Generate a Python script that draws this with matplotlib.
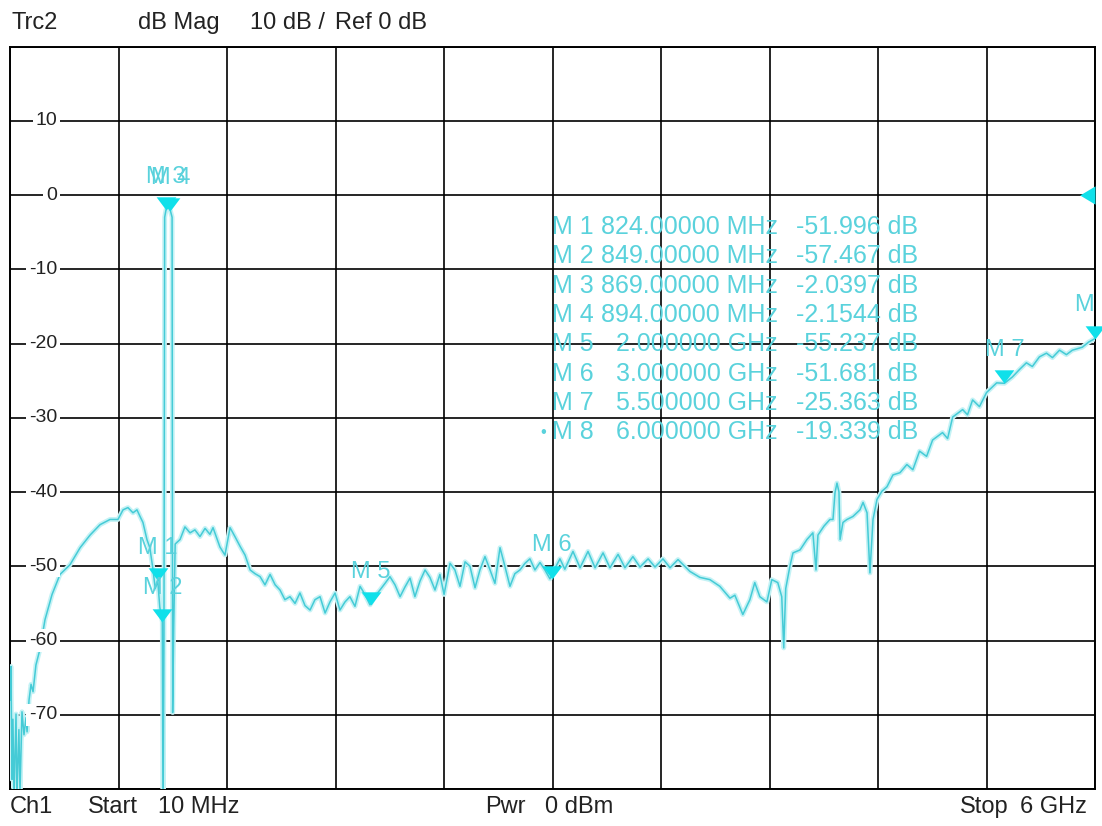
import numpy as np
import matplotlib
matplotlib.use("Agg")
import matplotlib.pyplot as plt
import matplotlib.transforms as mtransforms

# Trace (frequency in MHz, magnitude in dB)
freq_mhz = [
    10, 13, 19, 24, 30, 41, 46, 57, 63, 74, 85, 96, 102, 113, 124, 135, 151, 173,
    201, 240, 284, 339, 395, 450, 505, 560, 604, 632, 659, 687, 709, 726, 742, 764,
    780, 795, 810, 824, 835, 849, 853, 858, 862, 869, 880, 894, 903, 906, 912, 920,
    947, 974, 1002, 1029, 1057, 1085, 1112, 1129, 1167, 1195, 1223, 1250, 1278, 1306,
    1334, 1361, 1389, 1416, 1444, 1472, 1499, 1526, 1554, 1582, 1609, 1637, 1665,
    1692, 1720, 1748, 1775, 1803, 1830, 1858, 1885, 1913, 1941, 1968, 1996, 2024,
    2051, 2079, 2106, 2134, 2162, 2189, 2217, 2244, 2272, 2300, 2327, 2355, 2382,
    2405, 2438, 2465, 2493, 2521, 2548, 2576, 2603, 2631, 2659, 2686, 2714, 2741,
    2769, 2796, 2824, 2852, 2879, 2907, 2935, 2962, 2990, 3017, 3045, 3072, 3117,
    3156, 3200, 3239, 3283, 3321, 3366, 3404, 3448, 3487, 3532, 3570, 3614, 3653,
    3697, 3763, 3818, 3873, 3928, 3984, 4011, 4055, 4094, 4121, 4149, 4188, 4215,
    4248, 4270, 4281, 4292, 4315, 4332, 4371, 4409, 4442, 4459, 4470, 4503, 4536,
    4553, 4564, 4575, 4586, 4592, 4608, 4630, 4663, 4702, 4719, 4741, 4757, 4774,
    4796, 4823, 4851, 4884, 4923, 4961, 4994, 5031, 5070, 5103, 5158, 5186, 5214,
    5269, 5296, 5324, 5362, 5401, 5457, 5500, 5544, 5583, 5621, 5654, 5693, 5732,
    5765, 5804, 5842, 5875, 5930, 5965, 6000,
]
trace_db = [
    -68.0, -63.5, -78.7, -70.6, -81.0, -69.9, -81.0, -72.0, -80.5, -69.6, -72.7, -70.4,
    -72.3, -68.0, -65.9, -66.9, -63.3, -61.2,
    -57.2, -53.8, -51.1, -49.8, -47.5, -45.8, -44.4, -43.7, -43.7, -42.4, -42.1, -42.8,
    -42.4, -43.3, -44.1, -46.4,
    -47.5, -50.0, -53.0, -52.0, -55.5, -57.5, -85.0, -60.0, -3.0, -2.04, -1.6, -2.15,
    -3.0, -69.7, -58.0, -47.0,
    -46.4, -44.7, -45.5, -45.1, -46.0, -44.9, -45.7, -44.8, -47.4, -48.5, -44.8, -46.0,
    -47.3, -48.5,
    -50.5, -51.0, -51.4, -52.5, -51.1, -52.5, -53.2, -54.5, -54.1, -55.0, -53.6, -55.3,
    -55.9,
    -54.5, -54.1, -56.3, -54.8, -53.6, -55.9, -54.8, -54.1, -55.4, -52.7, -53.8, -55.2,
    -54.0,
    -53.2, -52.3, -51.4, -52.5, -54.1, -52.8, -51.6, -54.1, -52.0, -50.5, -51.5, -53.2,
    -51.1,
    -53.8, -49.6, -50.5, -52.7, -49.4, -50.0, -52.9, -50.5, -48.7, -50.5, -52.3, -47.5,
    -50.0,
    -52.7, -51.0, -50.5, -49.6, -49.0, -50.5, -49.5, -50.5, -51.7, -50.3, -49.0, -50.4,
    -48.0,
    -50.2, -48.0, -50.2, -48.2, -50.2, -48.4, -50.2, -48.7, -50.1, -49.0, -50.1, -49.0,
    -50.2,
    -49.1, -50.7, -51.5, -51.8, -52.7, -54.3, -53.9, -56.5, -54.5, -52.2, -54.1, -54.8,
    -51.8,
    -52.2, -54.1, -61.0, -53.0, -50.0, -48.2, -47.8, -46.4, -45.5, -50.5, -45.8, -44.6,
    -43.7,
    -43.7, -40.1, -38.8, -40.0, -46.4, -44.1, -43.7, -43.3, -42.4, -41.4, -42.8, -50.9,
    -43.7,
    -41.0, -39.9, -39.3, -37.7, -37.4, -36.3, -37.0, -34.5, -35.2, -33.0, -32.0, -32.8,
    -29.9,
    -28.9, -29.6, -27.6, -28.5, -26.6, -25.3, -25.36, -24.5, -23.5, -22.6, -23.1, -21.8,
    -21.3,
    -21.9, -20.9, -21.5, -20.9, -20.5, -19.8, -19.34,
]

# Markers
marker_names = ["M 1", "M 2", "M 3", "M 4", "M 5", "M 6", "M 7", "M 8"]
marker_mhz = [824, 849, 869, 894, 2000, 3000, 5500, 6000]
marker_db = [-51.996, -57.467, -2.0397, -2.1544, -55.237, -51.681, -25.363, -19.339]
marker_freq_text = ["824.00000 MHz", "849.00000 MHz", "869.00000 MHz", "894.00000 MHz",
                    "2.000000 GHz", "3.000000 GHz", "5.500000 GHz", "6.000000 GHz"]
marker_db_text = ["-51.996 dB", "-57.467 dB", "-2.0397 dB", "-2.1544 dB",
                  "-55.237 dB", "-51.681 dB", "-25.363 dB", "-19.339 dB"]

y_ticks = [-70, -60, -50, -40, -30, -20, -10, 0, 10]

plt.rcParams['font.family'] = ['Liberation Sans', 'DejaVu Sans']

trace_col = '#45CBD6'
glow_col = '#C4F2F5'
mark_col = '#10E0EA'
text_col = '#5AD2DC'

fig = plt.figure(figsize=(11.02, 8.26), dpi=100)
ax = fig.add_axes([0.00944, 0.04479, 0.98421, 0.89891])
ax.set_xlim(10, 6000)
ax.set_ylim(-80, 20)
ax.set_xticks(np.linspace(10, 6000, 11))
ax.set_yticks(np.arange(-80, 21, 10))
ax.tick_params(length=0, labelbottom=False, labelleft=False)
ax.grid(True, color='black', linewidth=1.2)
for s in ax.spines.values():
    s.set_linewidth(1.4)

# trace with a soft glow like the screen capture
ax.plot(freq_mhz, trace_db, color=glow_col, linewidth=3.5, solid_joinstyle='round', zorder=3)
ax.plot(freq_mhz, trace_db, color=trace_col, linewidth=1.1, zorder=4)

# y labels sit inside the grid
tr = mtransforms.blended_transform_factory(ax.transAxes, ax.transData)
for v in y_ticks:
    ax.text(0.043, v, str(v), transform=tr, ha='right', va='center', fontsize=14,
            color='#222222', zorder=5,
            bbox=dict(facecolor='white', edgecolor='none', pad=2))

# marker triangles, tip on the value
tri = [(-0.75, 1.0), (0.75, 1.0), (0.0, 0.0), (-0.75, 1.0)]
ax.plot(marker_mhz, marker_db, linestyle='none', marker=tri, markersize=19,
        color=mark_col, markeredgewidth=0, zorder=6, clip_on=False)
for name, f, v in zip(marker_names, marker_mhz, marker_db):
    ax.annotate(name, (f, v), xytext=(0, 24), textcoords='offset points',
                ha='center', va='center', fontsize=17, color=text_col,
                zorder=6, annotation_clip=False, clip_on=True)

# reference level marker at right edge
ref_tri = [(-1.0, 0.0), (0.0, 0.6), (0.0, -0.6), (-1.0, 0.0)]
ax.plot([1.0], [0], transform=tr, linestyle='none', marker=ref_tri, markersize=22,
        color=mark_col, markeredgewidth=0, zorder=6, clip_on=False)

# marker readout table
row0 = 0.7569
dy = 0.03946
for i in range(len(marker_names)):
    yy = row0 - i * dy
    ax.text(0.4994, yy, marker_names[i], transform=ax.transAxes, ha='left', va='center',
            fontsize=18, color=text_col, zorder=5)
    ax.text(0.7077, yy, marker_freq_text[i], transform=ax.transAxes, ha='right',
            va='center', fontsize=18, color=text_col, zorder=5)
    ax.text(0.8368, yy, marker_db_text[i], transform=ax.transAxes, ha='right',
            va='center', fontsize=18, color=text_col, zorder=5)
ax.text(0.491, row0 - 7 * dy, "•", transform=ax.transAxes, ha='center', va='center',
        fontsize=12, color=text_col, zorder=5)

# header and footer
hy = 1 - 23 / 826
fy = 1 - 807 / 826
fig.text(12 / 1102, hy, "Trc2", ha='left', va='center', fontsize=17, color='#222222')
fig.text(138 / 1102, hy, "dB Mag", ha='left', va='center', fontsize=17, color='#222222')
fig.text(250 / 1102, hy, "10 dB /", ha='left', va='center', fontsize=17, color='#222222')
fig.text(335 / 1102, hy, "Ref 0 dB", ha='left', va='center', fontsize=17, color='#222222')
fig.text(10 / 1102, fy, "Ch1", ha='left', va='center', fontsize=17, color='#222222')
fig.text(88 / 1102, fy, "Start", ha='left', va='center', fontsize=17, color='#222222')
fig.text(158 / 1102, fy, "10 MHz", ha='left', va='center', fontsize=17, color='#222222')
fig.text(485 / 1102, fy, "Pwr", ha='left', va='center', fontsize=17, color='#222222')
fig.text(545 / 1102, fy, "0 dBm", ha='left', va='center', fontsize=17, color='#222222')
fig.text(960 / 1102, fy, "Stop", ha='left', va='center', fontsize=17, color='#222222')
fig.text(1020 / 1102, fy, "6 GHz", ha='left', va='center', fontsize=17, color='#222222')

fig.savefig("out.png", dpi=100, facecolor='white')
